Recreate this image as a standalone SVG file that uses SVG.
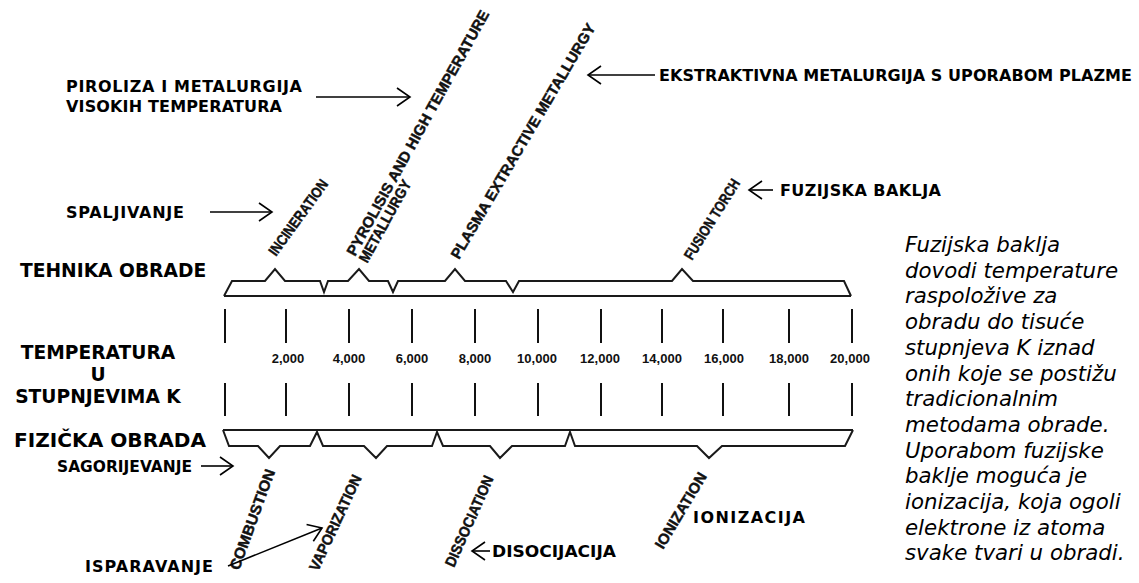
<svg xmlns="http://www.w3.org/2000/svg" width="1139" height="583" viewBox="0 0 1139 583">
<defs>
<style>
.lbl{font-family:"DejaVu Sans",Verdana,sans-serif;font-weight:bold;font-size:16px;fill:#000}
.axis{font-family:"DejaVu Sans",Verdana,sans-serif;font-weight:bold;font-size:18.67px;fill:#000}
.rot{font-family:"Liberation Sans",Arial,sans-serif;font-weight:bold;font-size:15px;fill:#111;stroke:#111;stroke-width:0.45}
.num{font-family:"Liberation Sans",Arial,sans-serif;font-weight:bold;font-size:13px;fill:#111;text-anchor:middle}
.para{font-family:"DejaVu Sans",Verdana,sans-serif;font-style:italic;font-size:21.33px;fill:#000}
.brace{fill:none;stroke:#1a1a1a;stroke-width:2;stroke-linejoin:miter}
.tick{stroke:#111;stroke-width:2}
.arr{fill:none;stroke:#000;stroke-width:1.6}
</style>
<marker id="ah" markerUnits="userSpaceOnUse" viewBox="-15 -11 17 22" markerWidth="17" markerHeight="22" refX="0" refY="0" orient="auto">
<path d="M-13,-9 L0,0 L-13,9" fill="none" stroke="#000" stroke-width="1.6"/>
</marker>
</defs>
<rect width="1139" height="583" fill="#fff"/>

<g id="axis-labels">
<text class="axis" x="20" y="277">TEHNIKA OBRADE</text>
<text class="axis" x="98" y="359" text-anchor="middle">TEMPERATURA</text>
<text class="axis" x="98" y="381" text-anchor="middle">U</text>
<text class="axis" x="98" y="403" text-anchor="middle">STUPNJEVIMA K</text>
<text class="axis" x="14" y="447" textLength="192" lengthAdjust="spacingAndGlyphs">FIZIČKA OBRADA</text>
</g>

<g id="brace-top">
<path class="brace" d="M224,296 L851,296"/>
<path class="brace" d="M224,296 L232,281 L265,281 L275,269 L285,281 L320,281 L324,292 L328,281 L348,281 L359,269 L369,281 L388,281 L393,292 L398,281 L445,281 L455,269 L465,281 L506,281 L513,292 L519,281 L672,281 L682,269 L693,281 L844,281 L851,296"/>
</g>

<g id="brace-bottom">
<path class="brace" d="M223,430 L853,430"/>
<path class="brace" d="M223,430 L229,446 L258,446 L269,458 L280,446 L310,446 L317,432 L323,446 L364,446 L376,458 L387,446 L432,446 L437,432 L443,446 L490,446 L500,458 L512,446 L565,446 L570,432 L575,446 L697,446 L709,458 L722,446 L845,446 L853,430"/>
</g>

<g id="scale">
<g id="ticks-upper">
<line class="tick" x1="225" y1="309" x2="225" y2="343"/>
<line class="tick" x1="286" y1="309" x2="286" y2="343"/>
<line class="tick" x1="349" y1="309" x2="349" y2="343"/>
<line class="tick" x1="412" y1="309" x2="412" y2="343"/>
<line class="tick" x1="475" y1="309" x2="475" y2="343"/>
<line class="tick" x1="538" y1="309" x2="538" y2="343"/>
<line class="tick" x1="601" y1="309" x2="601" y2="343"/>
<line class="tick" x1="662" y1="309" x2="662" y2="343"/>
<line class="tick" x1="723" y1="309" x2="723" y2="343"/>
<line class="tick" x1="789" y1="309" x2="789" y2="343"/>
<line class="tick" x1="852" y1="309" x2="852" y2="343"/>
</g>
<g id="ticks-lower">
<line class="tick" x1="225" y1="383" x2="225" y2="416"/>
<line class="tick" x1="286" y1="383" x2="286" y2="416"/>
<line class="tick" x1="349" y1="383" x2="349" y2="416"/>
<line class="tick" x1="412" y1="383" x2="412" y2="416"/>
<line class="tick" x1="475" y1="383" x2="475" y2="416"/>
<line class="tick" x1="538" y1="383" x2="538" y2="416"/>
<line class="tick" x1="601" y1="383" x2="601" y2="416"/>
<line class="tick" x1="662" y1="383" x2="662" y2="416"/>
<line class="tick" x1="723" y1="383" x2="723" y2="416"/>
<line class="tick" x1="789" y1="383" x2="789" y2="416"/>
<line class="tick" x1="852" y1="383" x2="852" y2="416"/>
</g>
<g id="tick-labels">
<text class="num" x="288" y="363">2,000</text>
<text class="num" x="349" y="363">4,000</text>
<text class="num" x="412" y="363">6,000</text>
<text class="num" x="475" y="363">8,000</text>
<text class="num" x="537" y="363">10,000</text>
<text class="num" x="600" y="363">12,000</text>
<text class="num" x="662" y="363">14,000</text>
<text class="num" x="724" y="363">16,000</text>
<text class="num" x="789" y="363">18,000</text>
<text class="num" x="850" y="363">20,000</text>
</g>
</g>

<g id="node-incineration"><text class="rot" transform="translate(276,257) rotate(-54)" textLength="90" lengthAdjust="spacingAndGlyphs">INCINERATION</text></g>
<g id="node-pyrolisis"><text class="rot" transform="translate(355,257) rotate(-61)"><tspan x="0" y="0" textLength="278" lengthAdjust="spacingAndGlyphs">PYROLISIS AND HIGH TEMPERATURE</tspan><tspan x="0" y="14" textLength="92" lengthAdjust="spacingAndGlyphs">METALLURGY</tspan></text></g>
<g id="node-plasma"><text class="rot" transform="translate(459,260) rotate(-59.5)" textLength="270" lengthAdjust="spacingAndGlyphs">PLASMA EXTRACTIVE METALLURGY</text></g>
<g id="node-fusion"><text class="rot" transform="translate(692,261) rotate(-58)" textLength="92" lengthAdjust="spacingAndGlyphs">FUSION TORCH</text></g>

<g id="node-combustion"><text class="rot" transform="translate(239,571) rotate(-70)" textLength="106" lengthAdjust="spacingAndGlyphs">COMBUSTION</text></g>
<g id="node-vaporization"><text class="rot" transform="translate(318,572) rotate(-65)" textLength="104" lengthAdjust="spacingAndGlyphs">VAPORIZATION</text></g>
<g id="node-dissociation"><text class="rot" transform="translate(454,568) rotate(-66)" textLength="98" lengthAdjust="spacingAndGlyphs">DISSOCIATION</text></g>
<g id="node-ionization"><text class="rot" transform="translate(663,550) rotate(-59)" textLength="86" lengthAdjust="spacingAndGlyphs">IONIZATION</text></g>

<g id="node-piroliza-hr">
<text class="lbl" x="66" y="92" textLength="236" lengthAdjust="spacing">PIROLIZA I METALURGIJA</text>
<text class="lbl" x="66" y="112" textLength="216" lengthAdjust="spacing">VISOKIH TEMPERATURA</text>
</g>
<g id="node-spaljivanje-hr"><text class="lbl" x="66" y="218" textLength="118" lengthAdjust="spacing">SPALJIVANJE</text></g>
<g id="node-ekstraktivna-hr"><text class="lbl" x="659" y="81" textLength="473" lengthAdjust="spacing">EKSTRAKTIVNA METALURGIJA S UPORABOM PLAZME</text></g>
<g id="node-fuzijska-hr"><text class="lbl" x="780" y="196" textLength="161" lengthAdjust="spacing">FUZIJSKA BAKLJA</text></g>
<g id="node-sagorijevanje-hr"><text class="lbl" style="font-size:15.3px" x="57" y="472" textLength="135" lengthAdjust="spacingAndGlyphs">SAGORIJEVANJE</text></g>
<g id="node-isparavanje-hr"><text class="lbl" x="85" y="572" textLength="128" lengthAdjust="spacing">ISPARAVANJE</text></g>
<g id="node-disocijacija-hr"><text class="lbl" style="font-size:15.5px" x="492" y="557" textLength="124" lengthAdjust="spacingAndGlyphs">DISOCIJACIJA</text></g>
<g id="node-ionizacija-hr"><text class="lbl" x="693" y="523" textLength="112" lengthAdjust="spacing">IONIZACIJA</text></g>

<g id="node-note">
<text class="para" x="905">
<tspan x="905" y="252">Fuzijska baklja</tspan>
<tspan x="905" y="277.7">dovodi temperature</tspan>
<tspan x="905" y="303.4">raspoložive za</tspan>
<tspan x="905" y="329.1">obradu do tisuće</tspan>
<tspan x="905" y="354.8">stupnjeva K iznad</tspan>
<tspan x="905" y="380.5">onih koje se postižu</tspan>
<tspan x="905" y="406.2">tradicionalnim</tspan>
<tspan x="905" y="431.9">metodama obrade.</tspan>
<tspan x="905" y="457.6">Uporabom fuzijske</tspan>
<tspan x="905" y="483.3">baklje moguća je</tspan>
<tspan x="905" y="509">ionizacija, koja ogoli</tspan>
<tspan x="905" y="534.7">elektrone iz atoma</tspan>
<tspan x="905" y="560.4">svake tvari u obradi.</tspan>
</text>
</g>

<g id="connectors">
<line class="arr" x1="316" y1="97" x2="410" y2="97" marker-end="url(#ah)"/>
<line class="arr" x1="210" y1="212" x2="272" y2="212" marker-end="url(#ah)"/>
<line class="arr" x1="655" y1="75" x2="588" y2="75" marker-end="url(#ah)"/>
<line class="arr" x1="773" y1="190" x2="749" y2="190" marker-end="url(#ah)"/>
<line class="arr" x1="201" y1="466" x2="233" y2="466" marker-end="url(#ah)"/>
<line class="arr" x1="228" y1="566" x2="322" y2="528" marker-end="url(#ah)"/>
<line class="arr" x1="490" y1="551" x2="472" y2="551" marker-end="url(#ah)"/>
</g>
</svg>
